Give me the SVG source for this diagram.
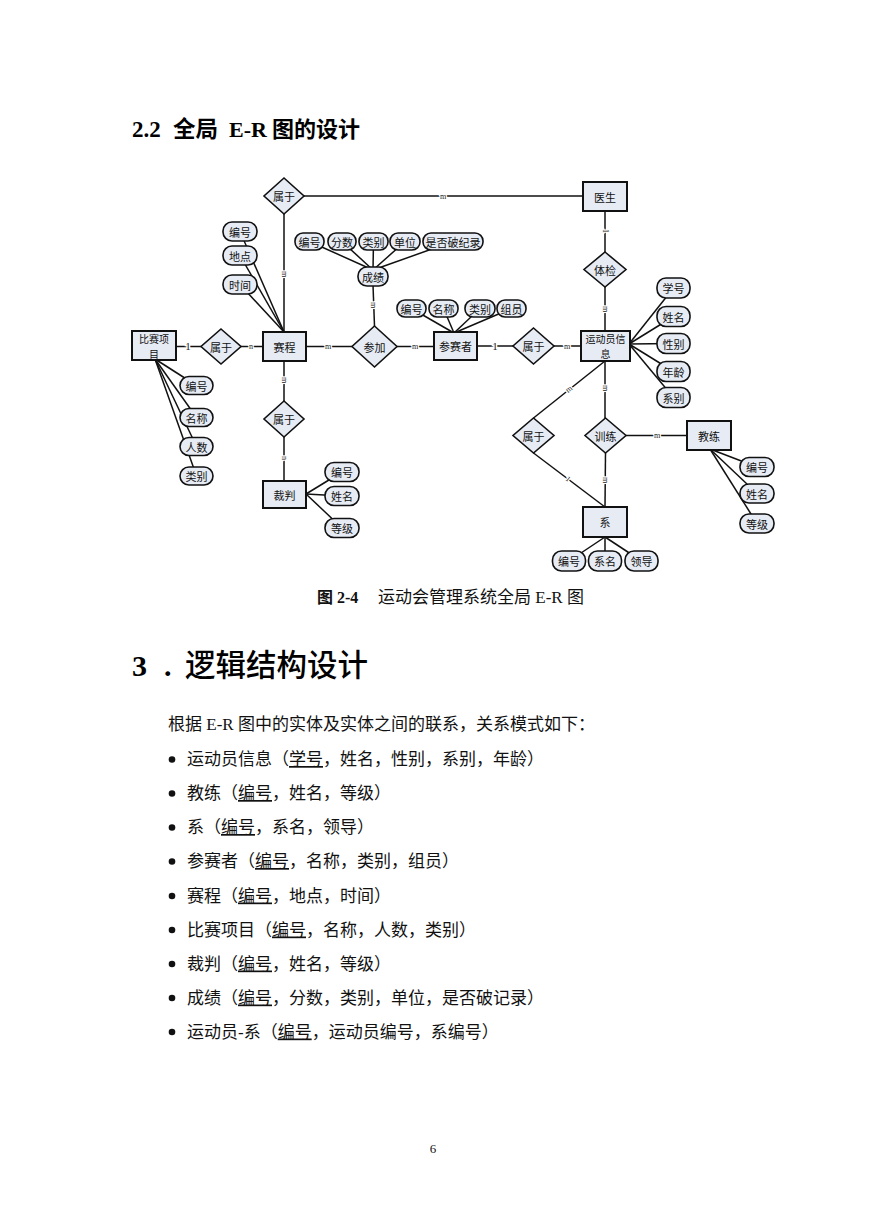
<svg xmlns="http://www.w3.org/2000/svg" width="869" height="1228" viewBox="0 0 869 1228">
<style>
.ent{fill:#e6ebf4;stroke:#111;stroke-width:2}
.rel{fill:#e6ebf4;stroke:#111;stroke-width:1.6}
.att{fill:#e6ebf4;stroke:#111;stroke-width:1.6}
.lbl{font-family:"Noto Sans CJK SC",sans-serif;font-size:11px;fill:#111;text-anchor:middle;dominant-baseline:central}
.lbl2{font-family:"Noto Sans CJK SC",sans-serif;font-size:10px;fill:#111;text-anchor:middle;dominant-baseline:central}
.ln{stroke:#111;stroke-width:1.5;fill:none}
.card{font-family:"Liberation Serif",serif;font-size:8px;fill:#222;text-anchor:middle;dominant-baseline:central;stroke:#fff;stroke-width:2.5;paint-order:stroke}
.card1{font-family:"Liberation Serif",serif;font-size:11px;fill:#222;text-anchor:middle;dominant-baseline:central;stroke:#fff;stroke-width:3;paint-order:stroke}
.body{font-family:"Liberation Serif","Noto Sans CJK SC",serif;font-size:17px;fill:#111}
.u{text-decoration:underline}
</style>

<!-- headings -->
<g id="title22" font-family="Liberation Serif,Noto Sans CJK SC,serif" font-weight="bold" fill="#000">
<text x="132" y="137" font-size="23">2.2</text>
<text x="173" y="137" font-size="22.5" font-family="Noto Sans CJK SC,sans-serif">全局</text>
<text x="229" y="137" font-size="22">E-R</text>
<text x="272" y="137" font-size="22" font-family="Noto Sans CJK SC,sans-serif">图的设计</text>
</g>

<!-- connectors -->
<g id="connectors" class="ln">
<line x1="304" y1="196" x2="583" y2="196"/>
<line x1="605" y1="211" x2="605" y2="252"/>
<line x1="605" y1="287" x2="605" y2="331"/>
<line x1="554" y1="346" x2="581" y2="346"/>
<line x1="477" y1="346" x2="513" y2="346"/>
<line x1="397" y1="346.5" x2="434" y2="346.5"/>
<line x1="306" y1="346.5" x2="352" y2="346.5"/>
<line x1="241" y1="346.5" x2="263" y2="346.5"/>
<line x1="176" y1="346.5" x2="201" y2="346.5"/>
<line x1="284" y1="214" x2="284" y2="332"/>
<line x1="373" y1="285" x2="374.5" y2="326"/>
<line x1="284" y1="361" x2="284" y2="401"/>
<line x1="284" y1="437" x2="284" y2="481"/>
<line x1="605" y1="361" x2="533.5" y2="418"/>
<line x1="605" y1="361" x2="605" y2="418"/>
<line x1="626" y1="435.5" x2="687" y2="435.5"/>
<line x1="605.5" y1="453" x2="605" y2="507"/>
<line x1="533.5" y1="453" x2="605" y2="507"/>
<!-- attribute lines -->
<line x1="240" y1="231.5" x2="284" y2="332"/>
<line x1="240" y1="255.5" x2="284" y2="332"/>
<line x1="240" y1="284.5" x2="284" y2="332"/>
<line x1="309.5" y1="241.5" x2="373" y2="270"/>
<line x1="342" y1="241.5" x2="373" y2="270"/>
<line x1="373.5" y1="241.5" x2="373" y2="270"/>
<line x1="405" y1="241.5" x2="373" y2="270"/>
<line x1="453" y1="241.5" x2="373" y2="270"/>
<line x1="411.5" y1="308.5" x2="454" y2="333"/>
<line x1="443.5" y1="308.5" x2="454" y2="333"/>
<line x1="480" y1="308.5" x2="454" y2="333"/>
<line x1="511.5" y1="308.5" x2="454" y2="333"/>
<line x1="673.5" y1="288" x2="629" y2="344"/>
<line x1="673.5" y1="316.5" x2="629" y2="344"/>
<line x1="673.5" y1="343.5" x2="629" y2="344"/>
<line x1="673.5" y1="371.5" x2="629" y2="344"/>
<line x1="673.5" y1="397.5" x2="629" y2="344"/>
<line x1="196.5" y1="385.5" x2="155" y2="359"/>
<line x1="196.5" y1="417.5" x2="155" y2="359"/>
<line x1="196.5" y1="446.5" x2="155" y2="359"/>
<line x1="196.5" y1="476" x2="155" y2="359"/>
<line x1="342" y1="472" x2="306" y2="494"/>
<line x1="342" y1="496" x2="306" y2="494"/>
<line x1="342" y1="528" x2="306" y2="494"/>
<line x1="757" y1="467" x2="710" y2="449"/>
<line x1="757" y1="493.5" x2="710" y2="449"/>
<line x1="757" y1="523.5" x2="710" y2="449"/>
<line x1="569" y1="561" x2="605" y2="537"/>
<line x1="605" y1="561" x2="605" y2="537"/>
<line x1="641.5" y1="561" x2="605" y2="537"/>
</g>

<!-- cardinality labels -->
<g id="cardinality">
<text class="card" x="443" y="196">m</text>
<text class="card" transform="translate(605,231) rotate(90)">1</text>
<text class="card" transform="translate(605,309) rotate(90)">m</text>
<text class="card" x="567" y="346">m</text>
<text class="card1" x="495" y="346">1</text>
<text class="card" x="415" y="346.5">m</text>
<text class="card" x="328" y="346.5">m</text>
<text class="card" x="251" y="346.5">n</text>
<text class="card1" x="188" y="346">1</text>
<text class="card" transform="translate(284,274) rotate(90)">m</text>
<text class="card" transform="translate(373.5,305) rotate(90)">m</text>
<text class="card" transform="translate(284,380) rotate(90)">m</text>
<text class="card" transform="translate(284,458) rotate(90)">n</text>
<text class="card" transform="translate(569,389) rotate(-38)">m</text>
<text class="card" transform="translate(605,388) rotate(90)">m</text>
<text class="card" x="657" y="435.5">m</text>
<text class="card" transform="translate(605,480) rotate(90)">m</text>
<text class="card" transform="translate(568,479) rotate(37)">1</text>
</g>

<!-- entities -->
<g id="doctor"><rect class="ent" x="583" y="182" width="44" height="29"/><text class="lbl" x="605" y="196.5">医生</text></g>
<g id="athlete"><rect class="ent" x="581" y="331" width="49" height="30"/><text class="lbl2" x="605.5" y="338.5">运动员信</text><text class="lbl2" x="605.5" y="353.5">息</text></g>
<g id="participant"><rect class="ent" x="434" y="332" width="43" height="28"/><text class="lbl" x="455.5" y="346">参赛者</text></g>
<g id="schedule"><rect class="ent" x="263" y="332" width="43" height="29"/><text class="lbl" x="284.5" y="346.5">赛程</text></g>
<g id="event"><rect class="ent" x="132" y="331" width="44" height="29" stroke-width="2.6"/><text class="lbl2" x="154" y="338.5">比赛项</text><text class="lbl2" x="154" y="353.5">目</text></g>
<g id="referee"><rect class="ent" x="263" y="481" width="43" height="27"/><text class="lbl" x="284.5" y="494.5">裁判</text></g>
<g id="coach"><rect class="ent" x="687" y="421" width="44" height="29"/><text class="lbl" x="709" y="435.5">教练</text></g>
<g id="dept"><rect class="ent" x="583" y="507" width="44" height="30"/><text class="lbl" x="605" y="522">系</text></g>

<!-- relationships -->
<g id="rel-belong-top"><polygon class="rel" points="284,178 304,196 284,214 264,196"/><text class="lbl" x="284" y="196">属于</text></g>
<g id="rel-exam"><polygon class="rel" points="605,252 626,269.5 605,287 584,269.5"/><text class="lbl" x="605" y="269.5">体检</text></g>
<g id="rel-belong-right"><polygon class="rel" points="533.5,328 554,346 533.5,364 513,346"/><text class="lbl" x="533.5" y="346">属于</text></g>
<g id="rel-join"><polygon class="rel" points="374.5,326 397,346.5 374.5,367 352,346.5"/><text class="lbl" x="374.5" y="346.5">参加</text></g>
<g id="rel-belong-left"><polygon class="rel" points="221,329 241,346.5 221,364 201,346.5"/><text class="lbl" x="221" y="346.5">属于</text></g>
<g id="rel-belong-low"><polygon class="rel" points="284,401 304,419 284,437 264,419"/><text class="lbl" x="284" y="419">属于</text></g>
<g id="rel-belong-lr"><polygon class="rel" points="533.5,418 554,435.5 533.5,453 513,435.5"/><text class="lbl" x="533.5" y="435.5">属于</text></g>
<g id="rel-train"><polygon class="rel" points="605.5,418 626,435.5 605.5,453 585,435.5"/><text class="lbl" x="605.5" y="435.5">训练</text></g>

<!-- attributes -->
<g id="score"><rect class="att" x="358" y="267" width="30" height="19" rx="9"/><text class="lbl" x="373" y="276.5">成绩</text></g>
<g id="score-attrs">
<rect class="att" x="295" y="233" width="29" height="17" rx="8"/><text class="lbl" x="309.5" y="241.5">编号</text>
<rect class="att" x="328" y="233" width="28" height="17" rx="8"/><text class="lbl" x="342" y="241.5">分数</text>
<rect class="att" x="359" y="233" width="29" height="17" rx="8"/><text class="lbl" x="373.5" y="241.5">类别</text>
<rect class="att" x="390" y="233" width="30" height="17" rx="8"/><text class="lbl" x="405" y="241.5">单位</text>
<rect class="att" x="423" y="233" width="60" height="17" rx="8"/><text class="lbl" x="453" y="241.5">是否破纪录</text>
</g>
<g id="participant-attrs">
<rect class="att" x="397" y="300" width="29" height="17" rx="8"/><text class="lbl" x="411.5" y="308.5">编号</text>
<rect class="att" x="429" y="300" width="29" height="17" rx="8"/><text class="lbl" x="443.5" y="308.5">名称</text>
<rect class="att" x="465" y="300" width="30" height="17" rx="8"/><text class="lbl" x="480" y="308.5">类别</text>
<rect class="att" x="497" y="300" width="29" height="17" rx="8"/><text class="lbl" x="511.5" y="308.5">组员</text>
</g>
<g id="schedule-attrs">
<rect class="att" x="223" y="222" width="34" height="19" rx="9"/><text class="lbl" x="240" y="231.5">编号</text>
<rect class="att" x="223" y="246" width="34" height="19" rx="9"/><text class="lbl" x="240" y="255.5">地点</text>
<rect class="att" x="223" y="275" width="34" height="19" rx="9"/><text class="lbl" x="240" y="284.5">时间</text>
</g>
<g id="athlete-attrs">
<rect class="att" x="657" y="278" width="33" height="20" rx="9"/><text class="lbl" x="673.5" y="288">学号</text>
<rect class="att" x="657" y="306.5" width="33" height="20" rx="9"/><text class="lbl" x="673.5" y="316.5">姓名</text>
<rect class="att" x="657" y="333.5" width="33" height="20" rx="9"/><text class="lbl" x="673.5" y="343.5">性别</text>
<rect class="att" x="657" y="361.5" width="33" height="20" rx="9"/><text class="lbl" x="673.5" y="371.5">年龄</text>
<rect class="att" x="657" y="387.5" width="33" height="20" rx="9"/><text class="lbl" x="673.5" y="397.5">系别</text>
</g>
<g id="event-attrs">
<rect class="att" x="180" y="376.5" width="33" height="18" rx="9"/><text class="lbl" x="196.5" y="385.5">编号</text>
<rect class="att" x="180" y="408.5" width="33" height="18" rx="9"/><text class="lbl" x="196.5" y="417.5">名称</text>
<rect class="att" x="180" y="437.5" width="33" height="18" rx="9"/><text class="lbl" x="196.5" y="446.5">人数</text>
<rect class="att" x="180" y="467" width="33" height="18" rx="9"/><text class="lbl" x="196.5" y="476">类别</text>
</g>
<g id="referee-attrs">
<rect class="att" x="325" y="462.5" width="34" height="19" rx="9"/><text class="lbl" x="342" y="472">编号</text>
<rect class="att" x="325" y="486.5" width="34" height="19" rx="9"/><text class="lbl" x="342" y="496">姓名</text>
<rect class="att" x="325" y="518.5" width="34" height="19" rx="9"/><text class="lbl" x="342" y="528">等级</text>
</g>
<g id="coach-attrs">
<rect class="att" x="740" y="457.5" width="34" height="19" rx="9"/><text class="lbl" x="757" y="467">编号</text>
<rect class="att" x="740" y="484" width="34" height="19" rx="9"/><text class="lbl" x="757" y="493.5">姓名</text>
<rect class="att" x="740" y="514" width="34" height="19" rx="9"/><text class="lbl" x="757" y="523.5">等级</text>
</g>
<g id="dept-attrs">
<rect class="att" x="552.5" y="551" width="33" height="20" rx="9"/><text class="lbl" x="569" y="561">编号</text>
<rect class="att" x="588.5" y="551" width="33" height="20" rx="9"/><text class="lbl" x="605" y="561">系名</text>
<rect class="att" x="625" y="551" width="33" height="20" rx="9"/><text class="lbl" x="641.5" y="561">领导</text>
</g>

<!-- caption -->
<g id="caption" font-family="Liberation Serif,Noto Sans CJK SC,serif" fill="#111">
<text x="317" y="603" font-size="16" font-weight="bold">图 2-4</text>
<text x="378" y="603" font-size="17">运动会管理系统全局 E-R 图</text>
</g>

<!-- section 3 heading -->
<g id="heading3" fill="#000">
<text x="132" y="676" font-size="30" font-weight="bold" font-family="Liberation Serif,serif">3</text>
<text x="164" y="676" font-size="30" font-weight="bold" font-family="Liberation Serif,serif">.</text>
<text x="185" y="676" font-size="30.5" font-weight="500" font-family="Noto Sans CJK SC,sans-serif">逻辑结构设计</text>
</g>

<!-- body -->
<g id="body">
<text class="body" x="168" y="730">根据 E-R 图中的实体及实体之间的联系，关系模式如下：</text>
<g fill="#111">
<circle cx="172" cy="759.5" r="3.3"/><circle cx="172" cy="793.5" r="3.3"/><circle cx="172" cy="827.5" r="3.3"/><circle cx="172" cy="861.5" r="3.3"/><circle cx="172" cy="896" r="3.3"/><circle cx="172" cy="930" r="3.3"/><circle cx="172" cy="964" r="3.3"/><circle cx="172" cy="998" r="3.3"/><circle cx="172" cy="1032" r="3.3"/>
</g>
<text class="body" x="187" y="765">运动员信息（<tspan class="u">学号</tspan>，姓名，性别，系别，年龄）</text>
<text class="body" x="187" y="799">教练（<tspan class="u">编号</tspan>，姓名，等级）</text>
<text class="body" x="187" y="833">系（<tspan class="u">编号</tspan>，系名，领导）</text>
<text class="body" x="187" y="867">参赛者（<tspan class="u">编号</tspan>，名称，类别，组员）</text>
<text class="body" x="187" y="901.5">赛程（<tspan class="u">编号</tspan>，地点，时间）</text>
<text class="body" x="187" y="935.5">比赛项目（<tspan class="u">编号</tspan>，名称，人数，类别）</text>
<text class="body" x="187" y="969.5">裁判（<tspan class="u">编号</tspan>，姓名，等级）</text>
<text class="body" x="187" y="1003.5">成绩（<tspan class="u">编号</tspan>，分数，类别，单位，是否破记录）</text>
<text class="body" x="187" y="1037.5">运动员-系（<tspan class="u">编号</tspan>，运动员编号，系编号）</text>
</g>

<text id="pagenum" x="433" y="1153" font-family="Liberation Serif,serif" font-size="13" text-anchor="middle" fill="#111">6</text>
</svg>
